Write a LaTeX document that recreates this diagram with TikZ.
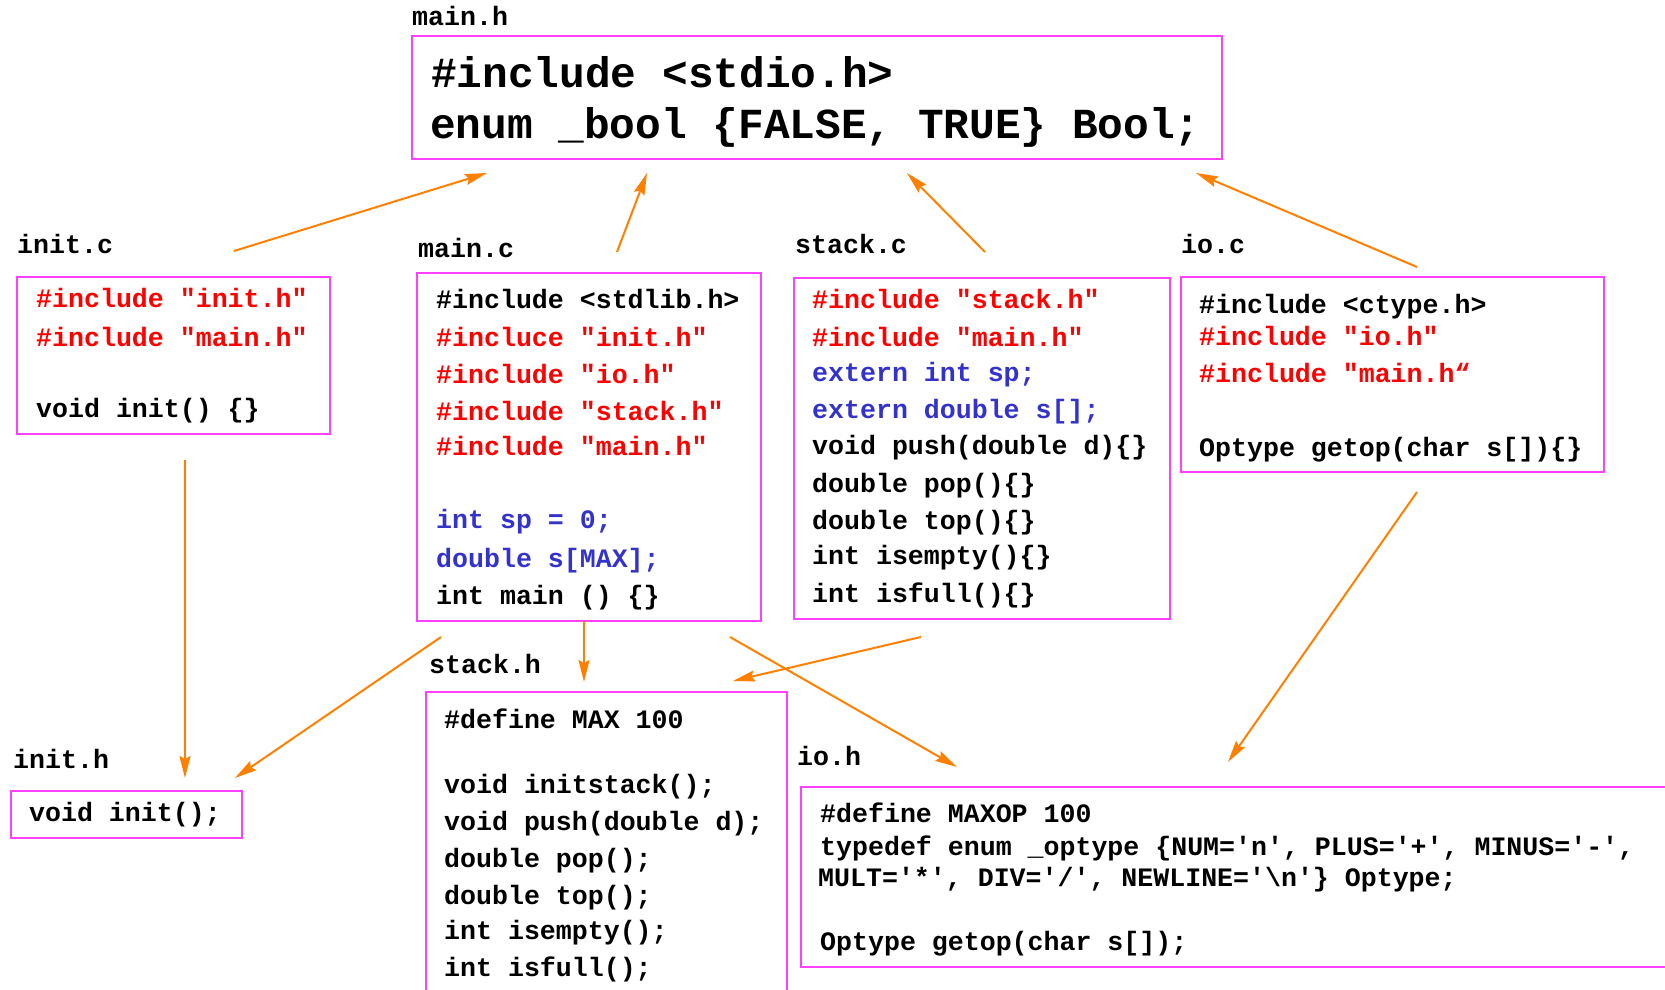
\documentclass[tikz,border=0pt]{standalone}
\usepackage{fontspec}
\setmonofont{Liberation Mono}
\usetikzlibrary{arrows.meta}

\definecolor{boxpink}{RGB}{255,64,255}
\definecolor{incred}{RGB}{255,0,0}
\definecolor{varblue}{RGB}{51,51,204}
\definecolor{deporange}{RGB}{255,128,0}

\tikzset{
  filebox/.style={draw=boxpink, line width=2pt, anchor=north west, inner sep=0pt},
  ln/.style={anchor=base west, inner sep=0pt, text=black,
    font=\ttfamily\bfseries\fontsize{26.6}{30}\selectfont},
  bigln/.style={ln, font=\ttfamily\bfseries\fontsize{42.8}{50}\selectfont},
  fname/.style={ln},
  inc/.style={text=incred},
  var/.style={text=varblue},
  dep/.style={draw=deporange, line width=2pt,
    -{Stealth[length=22pt, width=11pt, inset=3pt]}},
}

\begin{document}
\begin{tikzpicture}[x=1pt, y=-1pt]
\useasboundingbox (0,0) rectangle (1665,990);
\clip (0,0) rectangle (1665,990);

% ---------- main.h ----------
\node[fname] (mainh-lbl) at (412,26) {main.h};
\node[filebox, minimum width=810pt, minimum height=123pt] (mainh) at (411,35) {};
\node[bigln] (mainh-1) at (431,87) {\#include <stdio.h>};
\node[bigln] (mainh-2) at (430,138) {enum \_bool \{FALSE, TRUE\} Bool;};

% ---------- init.c ----------
\node[fname] (initc-lbl) at (17,253) {init.c};
\node[filebox, minimum width=313pt, minimum height=157pt] (initc) at (16,276) {};
\node[ln, inc] (initc-1) at (36,307) {\#include "init.h"};
\node[ln, inc] (initc-2) at (36,346) {\#include "main.h"};
\node[ln] (initc-3) at (36,417) {void init() \{\}};

% ---------- main.c ----------
\node[fname] (mainc-lbl) at (418,257) {main.c};
\node[filebox, minimum width=344pt, minimum height=348pt] (mainc) at (416,272) {};
\node[ln] (mainc-1) at (436,308) {\#include <stdlib.h>};
\node[ln, inc] (mainc-2) at (436,346) {\#incluce "init.h"};
\node[ln, inc] (mainc-3) at (436,383) {\#include "io.h"};
\node[ln, inc] (mainc-4) at (436,420) {\#include "stack.h"};
\node[ln, inc] (mainc-5) at (436,455) {\#include "main.h"};
\node[ln, var] (mainc-6) at (436,528) {int sp = 0;};
\node[ln, var] (mainc-7) at (436,567) {double s[MAX];};
\node[ln] (mainc-8) at (436,604) {int main () \{\}};

% ---------- stack.c ----------
\node[fname] (stackc-lbl) at (795,253) {stack.c};
\node[filebox, minimum width=376pt, minimum height=341pt] (stackc) at (793,277) {};
\node[ln, inc] (stackc-1) at (812,308) {\#include "stack.h"};
\node[ln, inc] (stackc-2) at (812,346) {\#include "main.h"};
\node[ln, var] (stackc-3) at (812,381) {extern int sp;};
\node[ln, var] (stackc-4) at (812,418) {extern double s[];};
\node[ln] (stackc-5) at (812,454) {void push(double d)\{\}};
\node[ln] (stackc-6) at (812,492) {double pop()\{\}};
\node[ln] (stackc-7) at (812,529) {double top()\{\}};
\node[ln] (stackc-8) at (812,564) {int isempty()\{\}};
\node[ln] (stackc-9) at (812,602) {int isfull()\{\}};

% ---------- io.c ----------
\node[fname] (ioc-lbl) at (1181,253) {io.c};
\node[filebox, minimum width=423pt, minimum height=195pt] (ioc) at (1180,276) {};
\node[ln] (ioc-1) at (1199,313) {\#include <ctype.h>};
\node[ln, inc] (ioc-2) at (1199,345) {\#include "io.h"};
\node[ln, inc] (ioc-3) at (1199,382) {\#include "main.h“};
\node[ln] (ioc-4) at (1199,456) {Optype getop(char s[])\{\}};

% ---------- init.h ----------
\node[fname] (inith-lbl) at (13,768) {init.h};
\node[filebox, minimum width=231pt, minimum height=47pt] (inith) at (10,790) {};
\node[ln] (inith-1) at (29,821) {void init();};

% ---------- stack.h ----------
\node[fname] (stackh-lbl) at (429,673) {stack.h};
\node[filebox, minimum width=361pt, minimum height=320pt] (stackh) at (425,691) {};
\node[ln] (stackh-1) at (444,728) {\#define MAX 100};
\node[ln] (stackh-2) at (444,793) {void initstack();};
\node[ln] (stackh-3) at (444,830) {void push(double d);};
\node[ln] (stackh-4) at (444,867) {double pop();};
\node[ln] (stackh-5) at (444,904) {double top();};
\node[ln] (stackh-6) at (444,939) {int isempty();};
\node[ln] (stackh-7) at (444,976) {int isfull();};

% ---------- io.h ----------
\node[fname] (ioh-lbl) at (797,765) {io.h};
\node[filebox, minimum width=900pt, minimum height=180pt] (ioh) at (800,786) {};
\node[ln] (ioh-1) at (820,822) {\#define MAXOP 100};
\node[ln] (ioh-2) at (820,855) {typedef enum \_optype \{NUM='n', PLUS='+', MINUS='-',};
\node[ln] (ioh-3) at (818,886) {MULT='*', DIV='/', NEWLINE='\textbackslash n'\} Optype;};
\node[ln] (ioh-4) at (820,950) {Optype getop(char s[]);};

% ---------- include dependencies ----------
\coordinate (a1s) at (234,251);  \coordinate (a1e) at (487,173);
\coordinate (a2s) at (617,252);  \coordinate (a2e) at (647,173);
\coordinate (a3s) at (985,252);  \coordinate (a3e) at (907,173);
\coordinate (a4s) at (1417,267); \coordinate (a4e) at (1196,173);
\coordinate (a5s) at (185,460);  \coordinate (a5e) at (185,778);
\coordinate (a6s) at (441,637);  \coordinate (a6e) at (235,778);
\coordinate (a7s) at (584,621);  \coordinate (a7e) at (584,682);
\coordinate (a8s) at (730,637);  \coordinate (a8e) at (957,767);
\coordinate (a9s) at (921,637);  \coordinate (a9e) at (733,681);
\coordinate (a10s) at (1417,492); \coordinate (a10e) at (1228,762);

\draw[dep] (a1s) -- (a1e);
\draw[dep] (a2s) -- (a2e);
\draw[dep] (a3s) -- (a3e);
\draw[dep] (a4s) -- (a4e);
\draw[dep] (a5s) -- (a5e);
\draw[dep] (a6s) -- (a6e);
\draw[dep] (a7s) -- (a7e);
\draw[dep] (a8s) -- (a8e);
\draw[dep] (a9s) -- (a9e);
\draw[dep] (a10s) -- (a10e);
\end{tikzpicture}
\end{document}
